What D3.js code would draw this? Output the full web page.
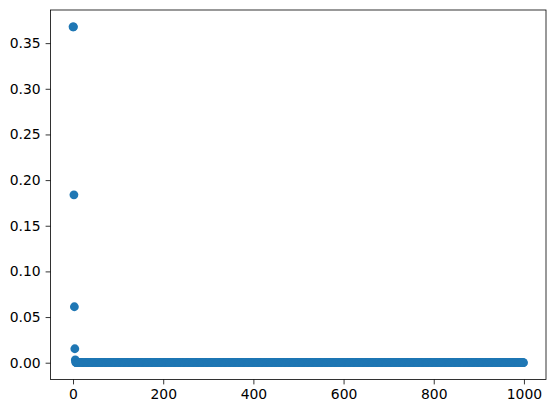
<!DOCTYPE html>
<html>
<head>
<meta charset="utf-8">
<script src="https://cdn.jsdelivr.net/npm/d3@7"></script>
<style>
  body { margin: 0; background: #fff; }
  svg text { font-family: "DejaVu Sans", sans-serif; font-size: 13.9px; fill: #000; }
</style>
</head>
<body>
<div id="chart"></div>
<script>
const width = 556;
const height = 413;
const margin = { top: 10, right: 10, bottom: 33.5, left: 50.5 };

// readings of the first few points; everything after sits on zero
const headValues = [0.3679, 0.3679, 0.1839, 0.0613, 0.0153, 0.0031, 0.0005, 0.0001];
const pointCount = 1000;
const tailValue = 0;
const xTicks = [0, 200, 400, 600, 800, 1000];
const yTicks = [0.00, 0.05, 0.10, 0.15, 0.20, 0.25, 0.30, 0.35];

const points = d3.range(pointCount).map(i => ({
  x: i,
  y: i < headValues.length ? headValues[i] : tailValue
}));

const svg = d3.select("#chart")
  .append("svg")
  .attr("width", width)
  .attr("height", height);

const x = d3.scaleLinear()
  .domain([-49.95, 1048.95])
  .range([margin.left, width - margin.right]);

const y = d3.scaleLinear()
  .domain([-0.01839, 0.38629])
  .range([height - margin.bottom, margin.top]);

svg.append("g")
  .selectAll("circle")
  .data(points)
  .join("circle")
  .attr("cx", d => x(d.x))
  .attr("cy", d => y(d.y))
  .attr("r", 4.4)
  .attr("fill", "#1f77b4");

const xAxis = svg.append("g")
  .attr("transform", `translate(0,${height - margin.bottom})`)
  .call(d3.axisBottom(x).tickValues(xTicks).tickFormat(d3.format("d")).tickSize(4.9).tickPadding(4.9));

const yAxis = svg.append("g")
  .attr("transform", `translate(${margin.left},0)`)
  .call(d3.axisLeft(y).tickValues(yTicks).tickFormat(d3.format(".2f")).tickSize(4.9).tickPadding(4.9));

[xAxis, yAxis].forEach(g => {
  g.select(".domain").remove();
  g.selectAll("line").attr("stroke", "#000").attr("stroke-width", 0.8);
  g.selectAll("text").attr("font-family", "DejaVu Sans").attr("font-size", 13.9).attr("fill", "#000");
});

svg.append("rect")
  .attr("x", margin.left)
  .attr("y", margin.top)
  .attr("width", width - margin.right - margin.left)
  .attr("height", height - margin.bottom - margin.top)
  .attr("fill", "none")
  .attr("stroke", "#000")
  .attr("stroke-width", 0.8);
</script>
</body>
</html>
